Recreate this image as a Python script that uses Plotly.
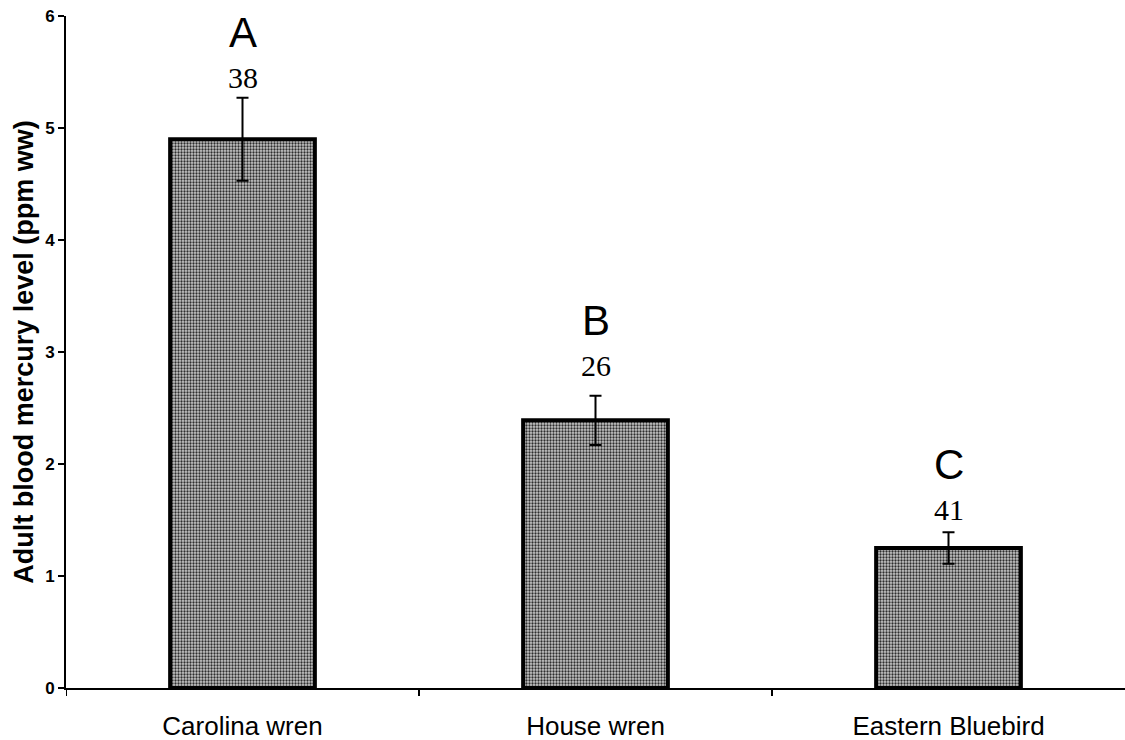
import plotly.graph_objects as go

species = ["Carolina wren", "House wren", "Eastern Bluebird"]
mercury_mean = [4.90, 2.39, 1.25]
mercury_se = [0.37, 0.22, 0.14]
sample_size = ["38", "26", "41"]
group_letter = ["A", "B", "C"]
y_ticks = [0, 1, 2, 3, 4, 5, 6]

fig = go.Figure()
fig.add_trace(go.Bar(
    x=species,
    y=mercury_mean,
    width=0.41,
    marker=dict(
        color="#b0b0b0",
        line=dict(color="black", width=4),
        pattern=dict(shape=".", fgcolor="#2e2e2e", bgcolor="#c8c8c8",
                     size=3, solidity=0.45, fillmode="replace"),
    ),
    error_y=dict(type="data", array=mercury_se, visible=True,
                 color="black", thickness=2, width=6),
    showlegend=False,
))

# n above each error bar, significance letter above that
num_shift = [20, 30, 23]
for i, sp in enumerate(species):
    top = mercury_mean[i] + mercury_se[i]
    fig.add_annotation(x=sp, y=top, text=sample_size[i], showarrow=False,
                       yanchor="middle", yshift=num_shift[i],
                       font=dict(family="Liberation Serif", size=30, color="black"))
    fig.add_annotation(x=sp, y=top, text=group_letter[i], showarrow=False,
                       yanchor="middle", yshift=num_shift[i] + 45,
                       font=dict(family="Liberation Sans", size=42, color="black"))

fig.update_layout(
    width=1125, height=740,
    margin=dict(l=66, r=0, t=16, b=52),
    paper_bgcolor="white", plot_bgcolor="white",
    bargap=0.59,
    xaxis=dict(
        showline=True, linecolor="black", linewidth=2,
        ticks="", showgrid=False, zeroline=False,
        tickfont=dict(family="Liberation Sans", size=26, color="black"),
        ticklabelstandoff=14,
        range=[-0.5, 2.5],
    ),
    yaxis=dict(
        range=[0, 6], tickvals=y_ticks,
        showline=True, linecolor="black", linewidth=2,
        ticks="outside", ticklen=6, tickcolor="black", tickwidth=1.5,
        showgrid=False, zeroline=False,
        tickfont=dict(family="Liberation Sans", size=17, color="black", weight="bold"),
        title=dict(text="<b>Adult blood mercury level (ppm ww)</b>",
                   font=dict(family="Liberation Sans", size=27, color="black"),
                   standoff=4),
    ),
)

# category-boundary tick marks under the x axis
for xb in [-0.5, 0.5, 1.5]:
    fig.add_shape(type="line", xref="x", yref="paper", x0=xb, x1=xb,
                  y0=0, y1=-0.012, line=dict(color="black", width=2))

fig.write_html("out.html")
